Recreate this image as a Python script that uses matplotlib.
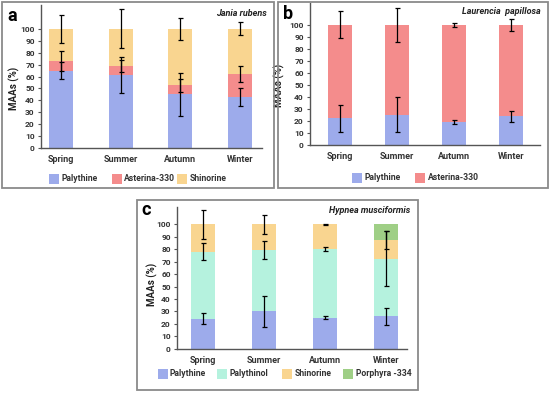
import matplotlib.pyplot as plt
from matplotlib.patches import Rectangle
import numpy as np

plt.rcParams["font.family"] = ["Roboto", "DejaVu Sans"]

seasons = ["Spring", "Summer", "Autumn", "Winter"]

# panel a - Jania rubens (stacked %, error bars at top of each segment)
palythine_a = [65, 61, 45, 43]
palythine_a_err = [7, 15, 18, 7.5]
asterina_a = [8, 8, 7.5, 19]
asterina_a_err = [8.5, 5, 5.5, 6.5]
shinorine_a = [27, 31, 47.5, 38]
shinorine_a_err = [11.5, 16.5, 9.5, 5.5]

# panel b - Laurencia papillosa
palythine_b = [22.5, 25.5, 19.5, 24]
palythine_b_err = [11.3, 14.5, 1.5, 4.5]
asterina_b = [77.5, 74.5, 80.5, 76]
asterina_b_err = [11.3, 14, 1.5, 5]

# panel c - Hypnea musciformis
palythine_c = [24, 30, 25, 26]
palythine_c_err = [4.5, 12.5, 1, 7]
palythinol_c = [54, 49.5, 55, 46.5]
palythinol_c_err = [7, 7, 1.5, 22]
shinorine_c = [22, 20.5, 20, 15]
shinorine_c_err = [11.5, 7.5, 0.5, 7.5]
porphyra_c = [0, 0, 0, 12.5]
porphyra_c_err = [0, 0, 0, 0]

C_PALYTHINE = "#9dabeb"
C_ASTERINA = "#f48c8c"
C_SHINORINE = "#f9d590"
C_PALYTHINOL = "#b5f2de"
C_PORPHYRA = "#9fcf86"
TXT = "#333333"

W, H = 550, 394
fig = plt.figure(figsize=(5.5, 3.94), dpi=100)


def px_axes(l, t, r, b):
    return fig.add_axes([l / W, 1 - b / H, (r - l) / W, (b - t) / H])


def stacked(ax, series, width):
    x = np.arange(len(seasons))
    bottom = np.zeros(len(seasons))
    for vals, errs, color, label in series:
        vals = np.array(vals, dtype=float)
        ax.bar(x, vals, width, bottom=bottom, color=color, label=label, zorder=2)
        top = bottom + vals
        errs = np.array(errs, dtype=float)
        m = (vals > 0) & (errs > 0)
        ax.errorbar(x[m], top[m], yerr=errs[m], fmt="none", ecolor="black",
                    elinewidth=0.9, capsize=1.8, capthick=0.9, zorder=3)
        bottom = top


def style(ax, ylim, xlim):
    ax.set_ylim(*ylim)
    ax.set_xlim(*xlim)
    ax.set_yticks(range(0, 101, 10))
    ax.set_xticks(range(4))
    ax.set_xticklabels(seasons, fontsize=6.5, fontweight="bold", color=TXT)
    for lab in ax.get_yticklabels():
        lab.set_fontsize(6)
        lab.set_fontweight("bold")
        lab.set_color(TXT)
    ax.tick_params(axis="x", length=0, pad=5)
    ax.tick_params(axis="y", length=2.5, width=0.8, pad=2, color="#555555")
    for s in ["top", "right"]:
        ax.spines[s].set_visible(False)
    for s in ["left", "bottom"]:
        ax.spines[s].set_color("#555555")
        ax.spines[s].set_linewidth(1.0)
    ax.set_ylabel("MAAs (%)", fontsize=7, fontweight="bold", color="#222222")
    ax.set_facecolor("none")


def legend(items, cy):
    # items: (label, colour, patch left x in px)
    for label, color, x0 in items:
        fig.patches.append(Rectangle((x0 / W, 1 - (cy + 5) / H), 10 / W, 10 / H,
                                     transform=fig.transFigure, facecolor=color,
                                     edgecolor="none"))
        fig.text((x0 + 12.5) / W, 1 - cy / H, label, fontsize=6.2, fontweight="bold",
                 color=TXT, va="center", ha="left")


# panel frames
for (l, t, r, b) in [(2, 2, 274, 188), (278, 2, 548, 188), (137, 200, 418, 390)]:
    fig.patches.append(Rectangle((l / W, 1 - b / H), (r - l) / W, (b - t) / H,
                                 transform=fig.transFigure, fill=False,
                                 edgecolor="#8a8a8a", linewidth=1.3))

# a
ax_a = px_axes(41, 5, 262, 148)
stacked(ax_a, [(palythine_a, palythine_a_err, C_PALYTHINE, "Palythine"),
               (asterina_a, asterina_a_err, C_ASTERINA, "Asterina-330"),
               (shinorine_a, shinorine_a_err, C_SHINORINE, "Shinorine")], 0.4)
style(ax_a, (0, 120), (-0.34, 3.37))
ax_a.yaxis.set_label_coords(-21 / 221, 0.42)

# b
ax_b = px_axes(310, 3, 540, 145.3)
stacked(ax_b, [(palythine_b, palythine_b_err, C_PALYTHINE, "Palythine"),
               (asterina_b, asterina_b_err, C_ASTERINA, "Asterina-330")], 0.42)
style(ax_b, (0, 118), (-0.52, 3.51))
ax_b.yaxis.set_label_coords(-25 / 230, 0.42)

# c
ax_c = px_axes(177, 207, 407, 348.7)
stacked(ax_c, [(palythine_c, palythine_c_err, C_PALYTHINE, "Palythine"),
               (palythinol_c, palythinol_c_err, C_PALYTHINOL, "Palythinol"),
               (shinorine_c, shinorine_c_err, C_SHINORINE, "Shinorine"),
               (porphyra_c, porphyra_c_err, C_PORPHYRA, "Porphyra -334")], 0.39)
style(ax_c, (0, 114), (-0.43, 3.34))
ax_c.yaxis.set_label_coords(-19 / 230, 0.45)

legend([("Palythine", C_PALYTHINE, 48.5), ("Asterina-330", C_ASTERINA, 111.5),
        ("Shinorine", C_SHINORINE, 177)], 178.5)
legend([("Palythine", C_PALYTHINE, 352), ("Asterina-330", C_ASTERINA, 415)], 178)
legend([("Palythine", C_PALYTHINE, 157.5), ("Palythinol", C_PALYTHINOL, 216.5),
        ("Shinorine", C_SHINORINE, 282), ("Porphyra -334", C_PORPHYRA, 343)], 374)

# panel letters and species names
fig.text(7 / W, 1 - 16 / H, "a", fontsize=13, fontweight="bold", va="center")
fig.text(283 / W, 1 - 14 / H, "b", fontsize=13, fontweight="bold", va="center")
fig.text(141 / W, 1 - 210 / H, "c", fontsize=13, fontweight="bold", va="center")
fig.text(267 / W, 1 - 13 / H, "Jania rubens", fontsize=6.5, fontweight="bold",
         style="italic", ha="right", va="center", color="#222222")
fig.text(541 / W, 1 - 12 / H, "Laurencia  papillosa", fontsize=6.5, fontweight="bold",
         style="italic", ha="right", va="center", color="#222222")
fig.text(410 / W, 1 - 210 / H, "Hypnea musciformis", fontsize=6.5, fontweight="bold",
         style="italic", ha="right", va="center", color="#222222")

fig.savefig("out.png", dpi=100)
